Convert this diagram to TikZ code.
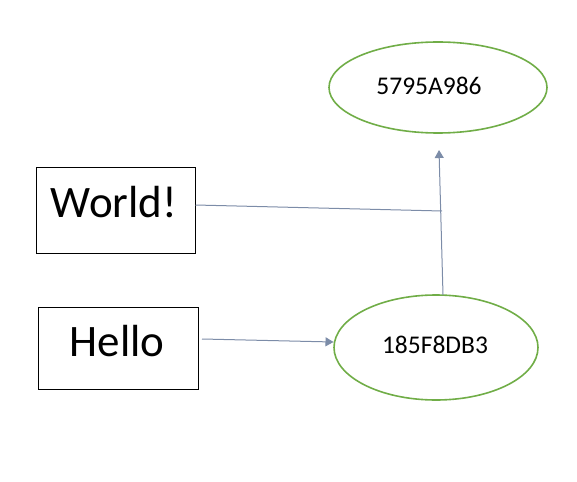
\documentclass[tikz,border=0pt]{standalone}
\usepackage{fontspec}
\setmainfont{Carlito}
\usetikzlibrary{shapes.geometric,arrows.meta}
\definecolor{hashgreen}{HTML}{70AD47}
\definecolor{linkblue}{HTML}{7C8CA8}
\begin{document}
\begin{tikzpicture}[x=1pt,y=-1pt,
  box/.style={draw=black,line width=1pt,inner sep=0pt},
  hashnode/.style={draw=hashgreen,ellipse,line width=1.6pt,inner sep=0pt},
  bigtext/.style={font=\fontsize{45}{45}\selectfont,inner sep=0pt},
  hashtext/.style={font=\fontsize{25.5}{25.5}\selectfont,inner sep=0pt},
  link/.style={draw=linkblue,line width=1pt},
  tip/.style={-{Triangle[length=8pt,width=9pt]}}]
\useasboundingbox (0,0) rectangle (577,481);
% boxes
\node[box,minimum width=159pt,minimum height=86pt] (worldbox) at (115.5,210) {};
\node[bigtext] (worldtxt) at (114,202) {World!};
\node[box,minimum width=160pt,minimum height=82pt] (hellobox) at (118,348) {};
\node[bigtext] (hellotxt) at (117,341) {Hello};
% ellipses
\node[hashnode,minimum width=218pt,minimum height=91pt] (top) at (438,87.5) {};
\node[hashtext] (toptxt) at (429,86) {5795A986};
\node[hashnode,minimum width=204pt,minimum height=105pt] (bot) at (436,347.5) {};
\node[hashtext] (bottxt) at (435,345) {185F8DB3};
% connector points
\coordinate (join) at (442,211);
\coordinate (upstart) at (443,295);
\coordinate (uptip) at (439,150);
\coordinate (hellostart) at (202,339);
\coordinate (hellotip) at (333.5,342);
% connectors
\draw[link] (worldbox.east |- 0,205) -- (join);
\draw[link,tip] (upstart) -- (uptip);
\draw[link,tip] (hellostart) -- (hellotip);
\end{tikzpicture}
\end{document}
